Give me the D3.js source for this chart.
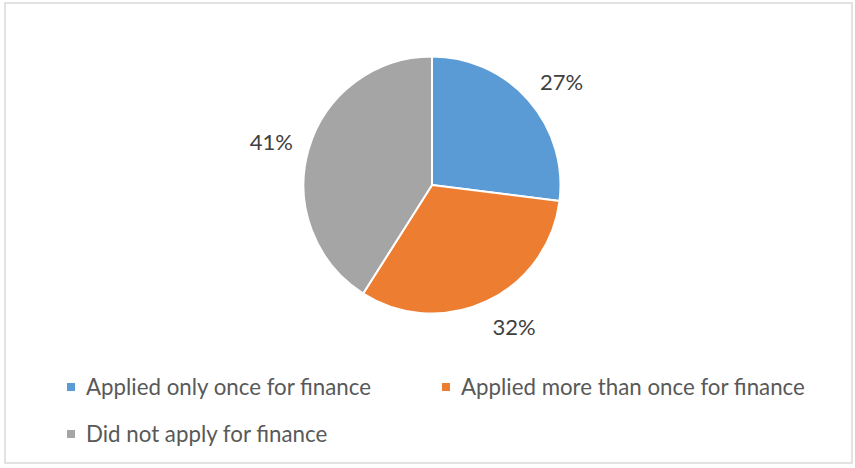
<!DOCTYPE html>
<html>
<head>
<meta charset="utf-8">
<script src="https://cdn.jsdelivr.net/npm/d3@7"></script>
<style>
  html, body { margin: 0; padding: 0; background: #fff; }
  svg { display: block; }
</style>
</head>
<body>
<svg id="chart" width="855" height="468"></svg>
<script>
// Share of respondents by finance application behaviour
const categories = ["Applied only once for finance", "Applied more than once for finance", "Did not apply for finance"];
const values = [27, 32, 41];
const labels = ["27%", "32%", "41%"];
const colors = ["#5b9bd5", "#ed7d31", "#a5a5a5"];

const FONT = "Lato, 'Open Sans', sans-serif";
const svg = d3.select("#chart");

// chart frame
svg.append("rect")
  .attr("x", 5).attr("y", 3)
  .attr("width", 847).attr("height", 460)
  .attr("fill", "#fff")
  .attr("stroke", "#d9d9d9")
  .attr("stroke-width", 1.5);

const cx = 432, cy = 185, r = 128.5;
const g = svg.append("g").attr("transform", `translate(${cx},${cy})`);

const pie = d3.pie().sort(null).value(d => d)(values);
const arc = d3.arc().innerRadius(0).outerRadius(r);

g.selectAll("path.slice")
  .data(pie)
  .join("path")
  .attr("class", "slice")
  .attr("d", arc)
  .attr("fill", (d, i) => colors[i])
  .attr("stroke", "#fff")
  .attr("stroke-width", 2)
  .attr("stroke-linejoin", "round");

// percentage labels: anchored on a ring outside the pie, with the text box
// pushed outward so its nearest side sits on the anchor point
const anchorR = 147, boxH = 18;
const pct = g.selectAll("text.pct")
  .data(pie)
  .join("text")
  .attr("class", "pct")
  .attr("text-anchor", "middle")
  .attr("dominant-baseline", "central")
  .attr("font-family", FONT)
  .attr("font-size", 22)
  .attr("fill", "#404040")
  .text((d, i) => labels[i]);

pct.each(function (d) {
  const a = (d.startAngle + d.endAngle) / 2;
  const s = Math.sin(a), c = Math.cos(a);
  const w = this.getBBox().width;
  const x = anchorR * s + Math.sign(s) * w * 0.45;
  const y = -anchorR * c - c * boxH / 2;
  d3.select(this).attr("x", x).attr("y", y);
});

// legend
const legendPos = [[67, 387], [442, 387], [67, 434]];
const lg = svg.append("g").attr("font-family", FONT);
categories.forEach((c, i) => {
  const [x, y] = legendPos[i];
  lg.append("rect")
    .attr("x", x).attr("y", y - 4)
    .attr("width", 8).attr("height", 8)
    .attr("fill", colors[i]);
  lg.append("text")
    .attr("x", x + 19).attr("y", y + 8)
    .attr("font-size", 22.3)
    .attr("fill", "#595959")
    .text(c);
});
</script>
</body>
</html>
